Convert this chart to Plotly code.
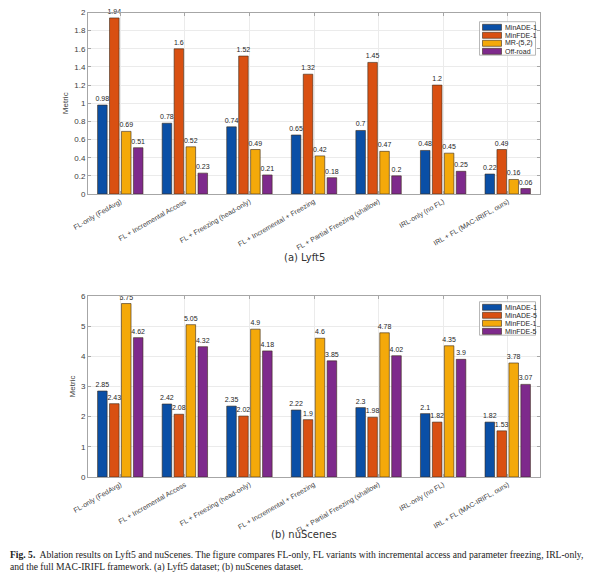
import plotly.graph_objects as go
from plotly.subplots import make_subplots

methods = [
    "FL-only (FedAvg)",
    "FL + Incremental Access",
    "FL + Freezing (head-only)",
    "FL + Incremental + Freezing",
    "FL + Partial Freezing (shallow)",
    "IRL-only (no FL)",
    "IRL + FL (MAC-IRIFL, ours)",
]

# (a) Lyft5
lyft_names = ["MinADE-1", "MinFDE-1", "MR-(5,2)", "Off-road"]
lyft_minade1 = [0.98, 0.78, 0.74, 0.65, 0.7, 0.48, 0.22]
lyft_minfde1 = [1.94, 1.6, 1.52, 1.32, 1.45, 1.2, 0.49]
lyft_mr = [0.69, 0.52, 0.49, 0.42, 0.47, 0.45, 0.16]
lyft_offroad = [0.51, 0.23, 0.21, 0.18, 0.2, 0.25, 0.06]

# (b) nuScenes
nu_names = ["MinADE-1", "MinADE-5", "MinFDE-1", "MinFDE-5"]
nu_minade1 = [2.85, 2.42, 2.35, 2.22, 2.3, 2.1, 1.82]
nu_minade5 = [2.43, 2.08, 2.02, 1.9, 1.98, 1.82, 1.53]
nu_minfde1 = [5.75, 5.05, 4.9, 4.6, 4.78, 4.35, 3.78]
nu_minfde5 = [4.62, 4.32, 4.18, 3.85, 4.02, 3.9, 3.07]

colors = ["#0a4fa6", "#d95012", "#f4a90a", "#7e2a8c"]
W, H = 607, 586
OFF = 8  # page body margin pushes the figure 8px right/down
SANS = "Liberation Sans, Arial, sans-serif"
EDGE = "#3a2a1a"


def px_x(v):
    # screen pixel -> paper fraction
    return (v - OFF) / W


def px_y(v):
    return 1 - (v - OFF) / H


fig = make_subplots(rows=2, cols=1)

panels = [
    (1, 21.7, lyft_names, [lyft_minade1, lyft_minfde1, lyft_mr, lyft_offroad]),
    (2, 301.7, nu_names, [nu_minade1, nu_minade5, nu_minfde1, nu_minfde5]),
]
shapes, annotations = [], []
for row, leg_top, names, series in panels:
    for name, vals, col in zip(names, series, colors):
        fig.add_trace(go.Bar(
            x=methods, y=vals, name=name,
            marker=dict(color=col, line=dict(color=EDGE, width=0.6)),
            text=[str(v) for v in vals], textposition="outside",
            constraintext="none",
            textfont=dict(size=7, color="#262626", family=SANS),
            cliponaxis=False,
        ), row=row, col=1)

    # legend box drawn by hand (plotly's legend rows are too tall here)
    shapes.append(dict(
        type="rect", xref="paper", yref="paper",
        x0=px_x(479.5), x1=px_x(535.5), y0=px_y(leg_top + 33.5), y1=px_y(leg_top),
        fillcolor="white", line=dict(color="#a6a6a6", width=0.8), layer="above",
    ))
    for i, (name, col) in enumerate(zip(names, colors)):
        cy = leg_top + 5.6 + 8 * i
        shapes.append(dict(
            type="rect", xref="paper", yref="paper",
            x0=px_x(482.5), x1=px_x(501.5), y0=px_y(cy + 3), y1=px_y(cy - 3),
            fillcolor=col, line=dict(color=EDGE, width=0.6), layer="above",
        ))
        annotations.append(dict(
            text=name, x=px_x(503), y=px_y(cy), xref="paper", yref="paper",
            xanchor="left", yanchor="middle", showarrow=False,
            font=dict(size=7, color="#262626", family=SANS),
        ))

axis_common = dict(
    showline=True, linecolor="#a6a6a6", linewidth=1, mirror="ticks",
    ticks="inside", ticklen=3, tickcolor="#a6a6a6",
    showgrid=True, gridcolor="#ebebeb", gridwidth=1,
    tickfont=dict(size=8, color="#404040", family=SANS),
    zeroline=False, automargin=False,
)

fig.update_xaxes(**axis_common)
fig.update_xaxes(tickangle=-30, domain=[px_x(88), px_x(540)],
                 tickfont=dict(size=7, color="#404040", family=SANS))
fig.update_yaxes(**axis_common)
fig.update_yaxes(row=1, col=1, range=[0, 2], dtick=0.2,
                 domain=[px_y(194), px_y(12.5)])
fig.update_yaxes(row=2, col=1, range=[0, 6], dtick=1,
                 domain=[px_y(477), px_y(296)])
fig.update_yaxes(title_text="Metric", title_standoff=4,
                 title_font=dict(size=8, color="#404040", family=SANS))

annotations += [
    dict(text="(a) Lyft5", x=px_x(304), y=px_y(257), xref="paper", yref="paper",
         showarrow=False, font=dict(size=10, color="#333333",
                                    family="DejaVu Sans, sans-serif")),
    dict(text="(b) nuScenes", x=px_x(304), y=px_y(542), xref="paper", yref="paper",
         showarrow=False, font=dict(size=10, color="#333333",
                                    family="DejaVu Sans, sans-serif")),
    dict(text="<b>Fig. 5.</b>  Ablation results on Lyft5 and nuScenes. The figure compares "
              "FL-only, FL variants with incremental access and parameter freezing, IRL-only,"
              "<br>and the full MAC-IRIFL framework. (a) Lyft5 dataset; (b) nuScenes dataset.",
         x=px_x(8), y=px_y(547), xref="paper", yref="paper",
         xanchor="left", yanchor="top", align="left", showarrow=False,
         font=dict(size=9.6, color="#222222",
                   family="Liberation Serif, DejaVu Serif, serif")),
]

fig.update_layout(
    width=W, height=H,
    margin=dict(l=0, r=0, t=0, b=0),
    paper_bgcolor="white", plot_bgcolor="white",
    barmode="group", bargap=0.26, bargroupgap=0.2,
    showlegend=False,
    shapes=shapes,
    annotations=annotations,
)

fig.write_html("out.html")
